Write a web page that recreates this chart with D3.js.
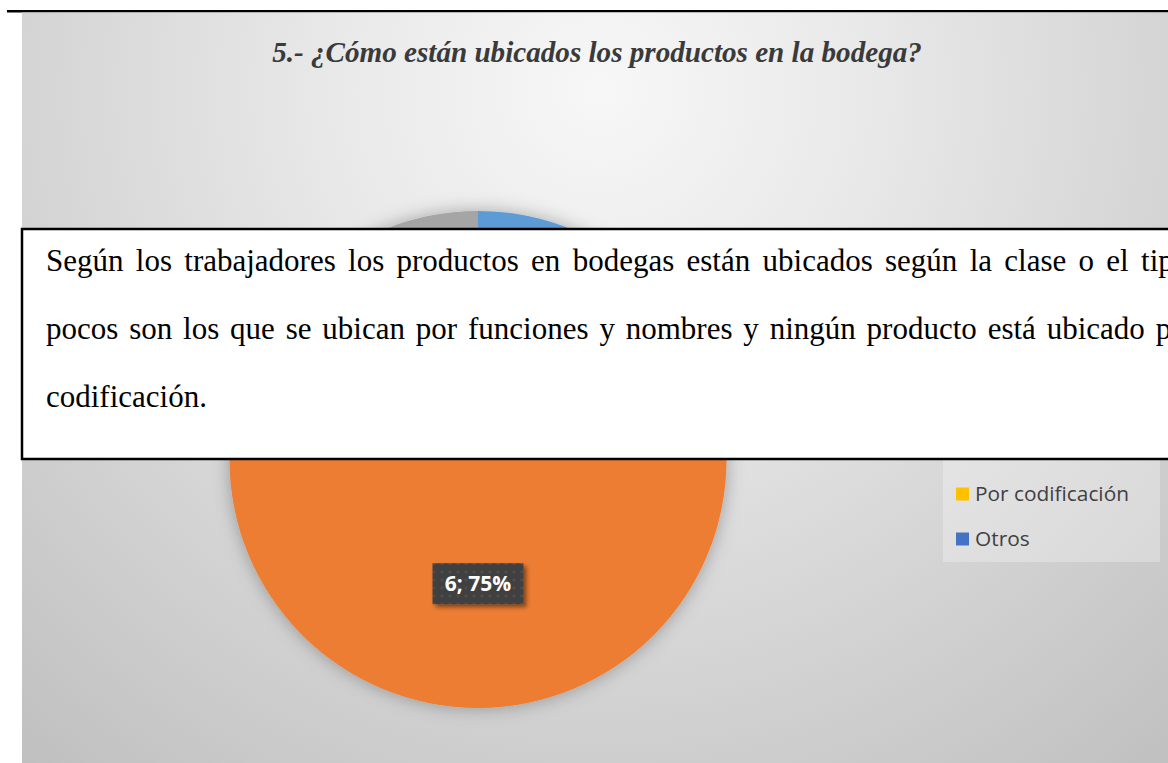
<!DOCTYPE html>
<html>
<head>
<meta charset="utf-8">
<script src="https://cdn.jsdelivr.net/npm/d3@7/dist/d3.min.js"></script>
<style>
  html, body { margin: 0; padding: 0; background: #ffffff; overflow: hidden; }
  svg { display: block; }
</style>
</head>
<body>
<svg id="chart" width="1168" height="763"></svg>
<script>
// ---- data ----
const categories = ["Por funciones", "Por clase o tipo", "Por nombres", "Por codificación", "Otros"];
const values = [1, 6, 1, 0, 0];
const colors = ["#5B9BD5", "#ED7D31", "#A5A5A5", "#FFC000", "#4472C4"];
const titleText = "5.- ¿Cómo están ubicados los productos en la bodega?";
const noteLines = [
  "Según los trabajadores los productos en bodegas están ubicados según la clase o el tipo,",
  "pocos son los que se ubican por funciones y nombres y ningún producto está ubicado por",
  "codificación."
];

const svg = d3.select("#chart");
const W = 1168, H = 763;
const defs = svg.append("defs");

// background gradient
const bg = defs.append("radialGradient").attr("id", "bgGrad")
  .attr("gradientUnits", "userSpaceOnUse")
  .attr("cx", 600).attr("cy", 90).attr("r", 880);
bg.append("stop").attr("offset", "0").attr("stop-color", "#f7f7f7");
bg.append("stop").attr("offset", "0.3").attr("stop-color", "#e9e9e9");
bg.append("stop").attr("offset", "1").attr("stop-color", "#c0c0c0");

const sh = defs.append("filter").attr("id", "pieShadow")
  .attr("x", "-20%").attr("y", "-20%").attr("width", "140%").attr("height", "140%");
sh.append("feDropShadow").attr("dx", 0).attr("dy", 0).attr("stdDeviation", 9)
  .attr("flood-color", "#000").attr("flood-opacity", 0.3);

const lblSh = defs.append("filter").attr("id", "lblShadow")
  .attr("x", "-20%").attr("y", "-20%").attr("width", "150%").attr("height", "160%");
lblSh.append("feDropShadow").attr("dx", 3).attr("dy", 3).attr("stdDeviation", 2)
  .attr("flood-color", "#000").attr("flood-opacity", 0.45);

const pat = defs.append("pattern").attr("id", "dots").attr("patternUnits", "userSpaceOnUse")
  .attr("width", 8).attr("height", 8);
pat.append("rect").attr("width", 8).attr("height", 8).attr("fill", "#404040");
pat.append("circle").attr("cx", 4).attr("cy", 4).attr("r", 1.6).attr("fill", "#4d4d4d");

// top rule
svg.append("rect").attr("x", 7).attr("y", 10).attr("width", W - 7).attr("height", 2.5).attr("fill", "#000");

// chart area
svg.append("rect").attr("x", 22).attr("y", 12.5).attr("width", W - 22).attr("height", H - 12.5)
  .attr("fill", "url(#bgGrad)");

// title
const title = svg.append("text")
  .attr("x", 597).attr("y", 62)
  .attr("text-anchor", "middle")
  .attr("font-family", "'Liberation Serif', 'Times New Roman', serif")
  .attr("font-weight", "bold").attr("font-style", "italic")
  .attr("font-size", 25).attr("fill", "#3a3a3a")
  .text(titleText);
(function fit(t, target) {
  const w = t.node().getComputedTextLength();
  const fs = +t.attr("font-size");
  t.attr("font-size", (fs * target / w).toFixed(2));
})(title, 650);

// note box geometry (drawn later, on top)
const box = { x: 22, y: 229, w: 1200, h: 230 };

// pie
const cx = 478, cy = 459.5, R = 248.5;
const pie = d3.pie().sort(null).value(d => d.value);
const data = categories.map((c, i) => ({ name: c, value: values[i], color: colors[i] }));
const arcs = pie(data);
const arcGen = d3.arc().innerRadius(0).outerRadius(R);
const total = d3.sum(values);

const pg = svg.append("g").attr("transform", `translate(${cx},${cy})`);
pg.append("g").attr("filter", "url(#pieShadow)")
  .selectAll("path").data(arcs.filter(a => a.data.value > 0)).join("path")
  .attr("d", arcGen).attr("fill", d => d.data.color);

// data labels (only those not hidden beneath the note box)
const visibleLabels = arcs.filter(a => {
  if (a.data.value <= 0) return false;
  const [lx, ly] = arcGen.centroid(a);
  const ay = cy + ly;
  return !(ay - 21 < box.y + box.h && ay + 21 > box.y);
});
const lab = pg.selectAll("g.lbl").data(visibleLabels).join("g")
  .attr("class", "lbl")
  .attr("transform", d => `translate(${arcGen.centroid(d)})`);
lab.append("rect").attr("x", -45.5).attr("y", -20.5).attr("width", 91).attr("height", 41)
  .attr("fill", "url(#dots)").attr("filter", "url(#lblShadow)");
lab.append("text").attr("text-anchor", "middle").attr("dy", "0.36em")
  .attr("font-family", "'Open Sans', 'Noto Sans', sans-serif").attr("font-weight", "bold")
  .attr("font-size", 21).attr("fill", "#ffffff")
  .text(d => `${d.data.value}; ${Math.round(d.data.value / total * 100)}%`);

// legend
const lg = svg.append("g");
lg.append("rect").attr("x", 943).attr("y", 324).attr("width", 217).attr("height", 238)
  .attr("fill", "#ffffff").attr("opacity", 0.28);
const li = lg.selectAll("g.li").data(data).join("g").attr("class", "li")
  .attr("transform", (d, i) => `translate(956, ${359 + i * 45})`);
li.append("rect").attr("x", 0).attr("y", -6.5).attr("width", 13).attr("height", 13)
  .attr("fill", d => d.color);
const lt = li.append("text").attr("x", 19).attr("dy", "0.35em")
  .attr("font-family", "'Open Sans', 'Noto Sans', sans-serif")
  .attr("font-size", 18).attr("fill", "#404040")
  .text(d => d.name);
(function () {
  const n = lt.filter(d => d.name === "Por codificación").node();
  const w = n.getComputedTextLength();
  lt.attr("font-size", (18 * 154 / w).toFixed(2));
})();

// note text box
svg.append("rect").attr("x", box.x).attr("y", box.y).attr("width", box.w).attr("height", box.h)
  .attr("fill", "#ffffff").attr("stroke", "#000").attr("stroke-width", 2.5);

const noteFont = "'Liberation Serif', 'Times New Roman', serif";
const noteSize = 31;
const left = 46, right = 1197;
const baselines = [271, 339, 407];
const measure = svg.append("text").attr("font-family", noteFont).attr("font-size", noteSize)
  .attr("visibility", "hidden");
function wordWidth(w) { measure.text(w); return measure.node().getComputedTextLength(); }
const spaceW = (function () { measure.text("a a"); const a = measure.node().getComputedTextLength(); measure.text("aa"); return a - measure.node().getComputedTextLength(); })();

noteLines.forEach((line, k2) => {
  const words = line.split(" ");
  const widths = words.map(wordWidth);
  const sumW = d3.sum(widths);
  const justify = k2 < noteLines.length - 1 && words.length > 1;
  const gap = justify ? (right - left - sumW) / (words.length - 1) : spaceW;
  let x = left;
  const t = svg.append("text").attr("font-family", noteFont).attr("font-size", noteSize)
    .attr("fill", "#000").attr("y", baselines[k2]);
  words.forEach((w, k) => {
    t.append("tspan").attr("x", x.toFixed(2)).text(w);
    x += widths[k] + gap;
  });
});
measure.remove();
</script>
</body>
</html>
